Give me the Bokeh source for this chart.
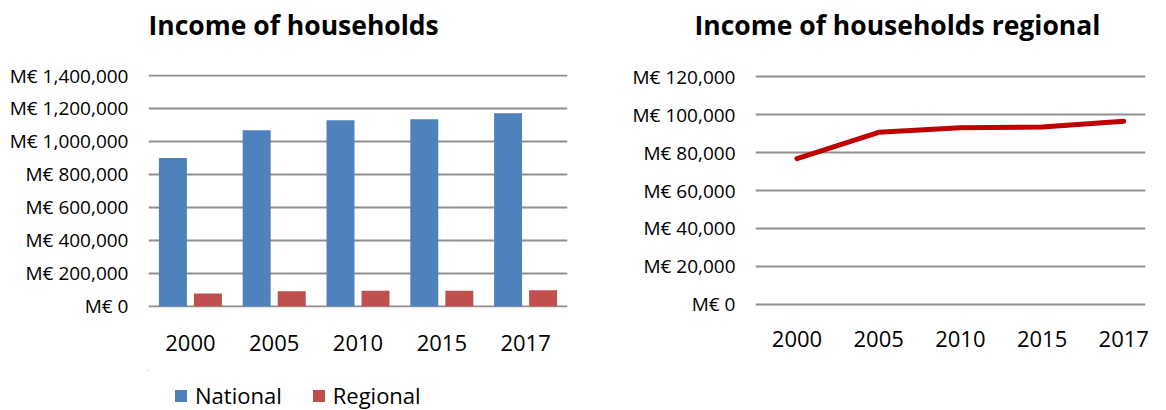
from bokeh.plotting import figure
from bokeh.layouts import row, column
from bokeh.models import (ColumnDataSource, Range1d, FixedTicker, Legend, LegendItem)
from bokeh.transform import dodge
from bokeh.embed import file_html
from bokeh.resources import INLINE

# ---------------- data ----------------
years = ["2000", "2005", "2010", "2015", "2017"]
national = [899000, 1067000, 1128000, 1134000, 1171000]
regional = [76800, 90600, 93000, 93400, 96500]
left_ticks = [0, 200000, 400000, 600000, 800000, 1000000, 1200000, 1400000]
right_ticks = [0, 20000, 40000, 60000, 80000, 100000, 120000]
series_names = ["National", "Regional"]
titles = ["Income of households", "Income of households regional"]

FONT = "Open Sans"
BLUE = "#4F81BD"
RED = "#C0504D"
LINE = "#C00000"
GRID = "#8f8f8f"

idx = list(range(len(years)))
src = ColumnDataSource(dict(x=idx, year=years, national=national, regional=regional))


def style(p, ticks):
    p.outline_line_color = None
    p.border_fill_color = "white"
    p.background_fill_color = "white"
    p.xgrid.grid_line_color = None
    p.ygrid.grid_line_color = GRID
    p.ygrid.grid_line_width = 2
    p.yaxis.ticker = FixedTicker(ticks=ticks)
    p.yaxis.major_label_overrides = {t: "M€ {:,}".format(t) for t in ticks}
    p.xaxis.ticker = FixedTicker(ticks=idx)
    p.xaxis.major_label_overrides = {i: y for i, y in zip(idx, years)}
    for ax in (p.xaxis, p.yaxis):
        ax.axis_line_color = None
        ax.major_tick_line_color = None
        ax.minor_tick_line_color = None
        ax.major_tick_out = 0
        ax.major_tick_in = 0
        ax.major_label_text_font = FONT
        ax.major_label_text_color = "black"
    p.yaxis.major_label_text_font_size = "19px"
    p.yaxis.major_label_standoff = 20
    p.xaxis.major_label_text_font_size = "22px"


def strip(width, height, title=None):
    # helper strip (title / legend row); its ranges show none of the data
    s = figure(width=width, height=height, output_backend="svg", toolbar_location=None,
               x_range=Range1d(100, 101), y_range=Range1d(-2, -1), title=title,
               x_axis_location=None, y_axis_location=None,
               min_border_top=0, min_border_bottom=0)
    s.outline_line_color = None
    s.grid.visible = False
    if title is not None:
        s.title.text_font = FONT
        s.title.text_font_style = "bold"
        s.title.text_font_size = "26.5px"
        s.title.text_color = "black"
        s.title.align = "left"
        s.title.standoff = 8
    return s


# ---------------- left: bars ----------------
t1 = strip(575, 60, titles[0])
t1.title.offset = 0

p1 = figure(width=575, height=310, output_backend="svg", toolbar_location=None,
            x_range=Range1d(-0.5, 4.5), y_range=Range1d(-7889, 1406069),
            min_border_left=148, min_border_right=8, min_border_top=14,
            min_border_bottom=63)
style(p1, left_ticks)
p1.xaxis.major_label_standoff = 27

p1.vbar(x=dodge("x", -0.209, range=p1.x_range), top="national", width=0.334,
        bottom=0, source=src, fill_color=BLUE, line_color=None)
p1.vbar(x=dodge("x", 0.209, range=p1.x_range), top="regional", width=0.334,
        bottom=0, source=src, fill_color=RED, line_color=None)

# legend strip under the bar chart
pleg = strip(575, 40)
g_nat = pleg.vbar(x="x", top="national", bottom=0, width=0.1, source=src,
                  fill_color=BLUE, line_color=None)
g_reg = pleg.vbar(x="x", top="regional", bottom=0, width=0.1, source=src,
                  fill_color=RED, line_color=None)
legend = Legend(items=[LegendItem(label=series_names[0], renderers=[g_nat]),
                       LegendItem(label=series_names[1], renderers=[g_reg])],
                location=(25, 0), orientation="horizontal")
legend.border_line_color = None
legend.background_fill_alpha = 0
legend.padding = 0
legend.margin = 0
legend.glyph_width = 15
legend.glyph_height = 15
legend.label_height = 15
legend.label_standoff = 7
legend.spacing = 29
legend.label_text_font = FONT
legend.label_text_font_size = "22px"
legend.label_text_color = "black"
pleg.add_layout(legend, "center")

# ---------------- right: line ----------------
t2 = strip(575, 60, titles[1])
t2.title.offset = -61

p2 = figure(width=575, height=350, output_backend="svg", toolbar_location=None,
            x_range=Range1d(-0.5076, 4.266), y_range=Range1d(-1053, 121053),
            min_border_left=180, min_border_right=0, min_border_top=14,
            min_border_bottom=104)
style(p2, right_ticks)
p2.xaxis.major_label_standoff = 24

p2.line(x="x", y="regional", source=src, line_color=LINE, line_width=5,
        line_cap="round", line_join="round")

layout = row(column(t1, p1, pleg), column(t2, p2))
open("out.html", "w").write(file_html(layout, INLINE))
